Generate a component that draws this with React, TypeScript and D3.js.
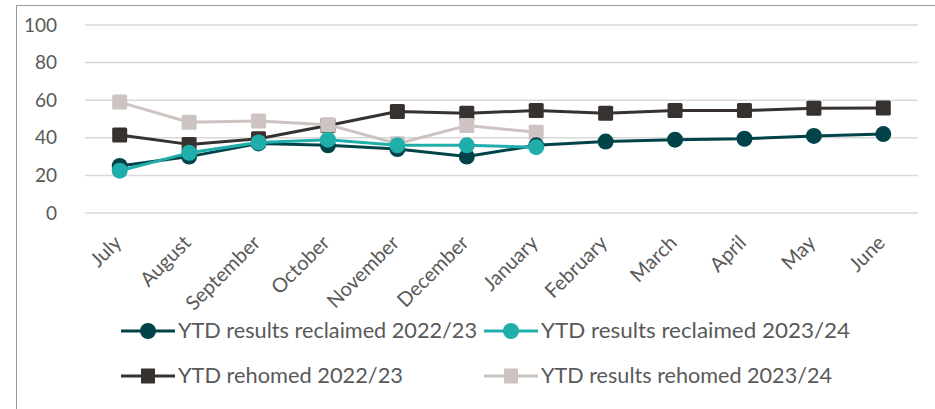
import React, { useEffect, useRef } from "react";
import * as d3 from "d3";

const months = ["July", "August", "September", "October", "November", "December", "January", "February", "March", "April", "May", "June"];
const yTicks = [0, 20, 40, 60, 80, 100];

const reclaimed2223 = [25, 30, 37, 36, 34, 30, 36, 38, 39, 39.5, 41, 42];
const reclaimed2324 = [22.5, 32, 37.5, 39, 36, 36, 35];
const rehomed2223 = [41.5, 36.5, 39.5, 46.5, 54, 53, 54.5, 53, 54.5, 54.5, 55.7, 55.8];
const rehomed2324 = [59, 48.3, 49, 47, 36.8, 46.5, 43];

const seriesNames = [
  "YTD results reclaimed 2022/23",
  "YTD results reclaimed 2023/24",
  "YTD rehomed 2022/23",
  "YTD results rehomed 2023/24",
];

const W = 935;
const H = 409;
const FONT = "Lato, 'Open Sans', sans-serif";

export default function App() {
  const svgRef = useRef<SVGSVGElement | null>(null);

  useEffect(() => {
    if (!svgRef.current) return;
    const svg = d3.select(svgRef.current);
    svg.selectAll("*").remove();

    // chart frame (right and bottom edges fall outside the picture)
    svg.append("rect")
      .attr("x", 16.5)
      .attr("y", 5.5)
      .attr("width", W)
      .attr("height", H)
      .attr("fill", "#fff")
      .attr("stroke", "#9a9a9a")
      .attr("stroke-width", 1);

    const x = d3.scaleBand<string>().domain(months).range([85, 918]).padding(0);
    const cx = (m: string) => (x(m) as number) + x.bandwidth() / 2;
    const y = d3.scaleLinear().domain([0, 100]).range([213, 25]);

    // gridlines + y labels
    svg.append("g")
      .selectAll("line")
      .data(yTicks)
      .enter()
      .append("line")
      .attr("x1", 85)
      .attr("x2", 918)
      .attr("y1", d => y(d))
      .attr("y2", d => y(d))
      .attr("stroke", "#d9d9d9")
      .attr("stroke-width", 1.5);

    svg.append("g")
      .selectAll("text")
      .data(yTicks)
      .enter()
      .append("text")
      .attr("x", 57)
      .attr("y", d => y(d))
      .attr("dy", "0.35em")
      .attr("text-anchor", "end")
      .attr("font-family", FONT)
      .attr("font-size", 19)
      .attr("fill", "#595959")
      .text(d => d);

    // month labels, rotated
    svg.append("g")
      .selectAll("text")
      .data(months)
      .enter()
      .append("text")
      .attr("transform", d => `translate(${cx(d) + 3},${244}) rotate(-45)`)
      .attr("text-anchor", "end")
      .attr("font-family", FONT)
      .attr("font-size", 20)
      .attr("fill", "#595959")
      .text(d => d);

    const series = [
      { name: seriesNames[0], values: reclaimed2223, color: "#00444a", shape: "circle" },
      { name: seriesNames[1], values: reclaimed2324, color: "#20aeab", shape: "circle" },
      { name: seriesNames[2], values: rehomed2223, color: "#37322f", shape: "square" },
      { name: seriesNames[3], values: rehomed2324, color: "#cdc3c0", shape: "square" },
    ];

    const line = d3.line<number>()
      .x((_, i) => cx(months[i]))
      .y(d => y(d));

    const drawOrder = [2, 3, 0, 1];
    drawOrder.forEach(si => {
      const s = series[si];
      const g = svg.append("g");
      g.append("path")
        .attr("d", line(s.values))
        .attr("fill", "none")
        .attr("stroke", s.color)
        .attr("stroke-width", 3)
        .attr("stroke-linejoin", "round");
      if (s.shape === "circle") {
        g.selectAll("circle")
          .data(s.values)
          .enter()
          .append("circle")
          .attr("cx", (_, i) => cx(months[i]))
          .attr("cy", d => y(d))
          .attr("r", 8)
          .attr("fill", s.color);
      } else {
        g.selectAll("rect")
          .data(s.values)
          .enter()
          .append("rect")
          .attr("x", (_, i) => cx(months[i]) - 7.5)
          .attr("y", d => y(d) - 7.5)
          .attr("width", 15)
          .attr("height", 15)
          .attr("rx", 1.5)
          .attr("fill", s.color);
      }
    });

    // legend
    const legendPos = [
      { x: 121, y: 331, len: 299 },
      { x: 484, y: 331, len: 309 },
      { x: 121, y: 376, len: 225 },
      { x: 484, y: 376, len: 291 },
    ];
    series.forEach((s, i) => {
      const p = legendPos[i];
      const g = svg.append("g").attr("transform", `translate(${p.x},${p.y})`);
      g.append("line")
        .attr("x1", 0)
        .attr("x2", 54)
        .attr("y1", 0)
        .attr("y2", 0)
        .attr("stroke", s.color)
        .attr("stroke-width", 3);
      if (s.shape === "circle") {
        g.append("circle").attr("cx", 27).attr("cy", 0).attr("r", 8).attr("fill", s.color);
      } else {
        g.append("rect").attr("x", 20).attr("y", -7.5).attr("width", 14).attr("height", 15).attr("fill", s.color);
      }
      g.append("text")
        .attr("x", 57)
        .attr("y", 0)
        .attr("dy", "0.35em")
        .attr("font-family", FONT)
        .attr("font-size", 21)
        .attr("fill", "#595959")
        .attr("textLength", p.len)
        .attr("lengthAdjust", "spacingAndGlyphs")
        .text(s.name);
    });
  }, []);

  return (
    <svg
      ref={svgRef}
      width={W}
      height={H}
      style={{ position: "absolute", left: 0, top: 0, background: "#fff" }}
    />
  );
}
